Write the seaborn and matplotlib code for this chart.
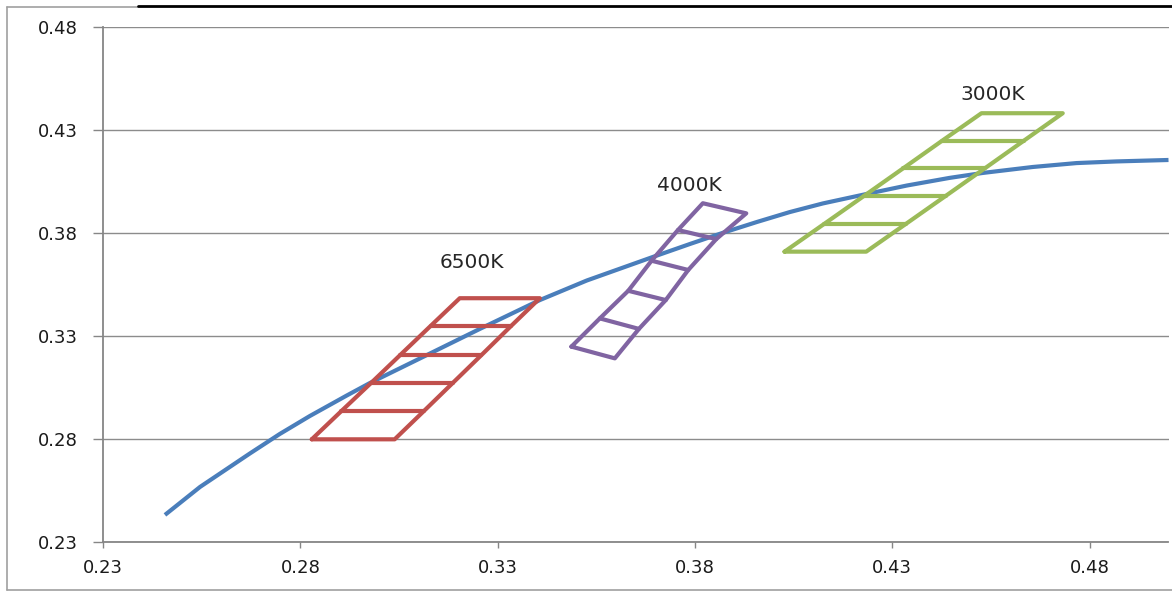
import matplotlib
matplotlib.use("Agg")
import matplotlib.pyplot as plt
import seaborn as sns
import pandas as pd
from matplotlib.lines import Line2D

# ---- data ----
locus_x = [0.2457, 0.2546, 0.2672, 0.2748, 0.2824, 0.2918, 0.2976, 0.3111,
           0.3255, 0.3407, 0.3526, 0.3693, 0.3787, 0.3870, 0.3957, 0.4040,
           0.4124, 0.4235, 0.4337, 0.4445, 0.4529, 0.4656, 0.4767, 0.4868,
           0.5000]
locus_y = [0.2430, 0.2566, 0.2728, 0.2823, 0.2910, 0.3010, 0.3070, 0.3197,
           0.3333, 0.3473, 0.3568, 0.3682, 0.3745, 0.3799, 0.3852, 0.3900,
           0.3942, 0.3988, 0.4029, 0.4066, 0.4090, 0.4119, 0.4138, 0.4146,
           0.4153]

# bin boundaries, bottom to top: left end (x, y) and right end (x, y)
k6500_left_x = [0.2829, 0.2904, 0.2979, 0.3053, 0.3130, 0.3204]
k6500_left_y = [0.2797, 0.2934, 0.3070, 0.3206, 0.3347, 0.3482]
k6500_right_x = [0.3039, 0.3113, 0.3186, 0.3259, 0.3334, 0.3407]
k6500_right_y = [0.2797, 0.2934, 0.3070, 0.3206, 0.3347, 0.3482]

k4000_left_x = [0.3487, 0.3559, 0.3631, 0.3690, 0.3757, 0.3820]
k4000_left_y = [0.3247, 0.3384, 0.3518, 0.3664, 0.3813, 0.3943]
k4000_right_x = [0.3597, 0.3658, 0.3726, 0.3783, 0.3854, 0.3930]
k4000_right_y = [0.3190, 0.3333, 0.3473, 0.3619, 0.3769, 0.3894]

k3000_left_x = [0.4027, 0.4127, 0.4228, 0.4328, 0.4426, 0.4526]
k3000_left_y = [0.3708, 0.3842, 0.3978, 0.4113, 0.4246, 0.4380]
k3000_right_x = [0.4234, 0.4334, 0.4435, 0.4535, 0.4633, 0.4732]
k3000_right_y = [0.3708, 0.3842, 0.3978, 0.4113, 0.4246, 0.4380]

bin_labels = ["6500K", "4000K", "3000K"]
label_x = [0.3235, 0.3787, 0.4554]
label_y = [0.3657, 0.4031, 0.4469]

ticks = [0.23, 0.28, 0.33, 0.38, 0.43, 0.48]
tick_labels = ["0.23", "0.28", "0.33", "0.38", "0.43", "0.48"]

# ---- style ----
sns.set_theme(style="white")
plt.rcParams["font.family"] = ["DejaVu Sans"]

fig = plt.figure(figsize=(11.72, 5.92), dpi=100)
ax = fig.add_axes([103 / 1172, 1 - 541.7 / 592, (1168.5 - 103) / 1172, (541.7 - 26.7) / 592])

blue = "#4A7EBB"
colors = ["#C0504D", "#8064A2", "#9BBB59"]

df = pd.DataFrame({"x": locus_x, "y": locus_y})
sns.lineplot(data=df, x="x", y="y", sort=False, ax=ax, color=blue, lw=3.0,
             solid_capstyle="butt", solid_joinstyle="round", zorder=3)

bins = [
    (k6500_left_x, k6500_left_y, k6500_right_x, k6500_right_y),
    (k4000_left_x, k4000_left_y, k4000_right_x, k4000_right_y),
    (k3000_left_x, k3000_left_y, k3000_right_x, k3000_right_y),
]
for (lx, ly, rx, ry), c in zip(bins, colors):
    outline_x = list(lx) + list(rx[::-1]) + [lx[0]]
    outline_y = list(ly) + list(ry[::-1]) + [ly[0]]
    ax.plot(outline_x, outline_y, color=c, lw=3.0, solid_joinstyle="round",
            solid_capstyle="round", zorder=4)
    for i in range(1, len(lx) - 1):
        ax.plot([lx[i], rx[i]], [ly[i], ry[i]], color=c, lw=3.0,
                solid_capstyle="round", zorder=4)

for t, x, y in zip(bin_labels, label_x, label_y):
    ax.text(x, y, t, ha="center", va="center", fontsize=14.5, color="#262626")

ax.set_xlim(0.23, 0.50)
ax.set_ylim(0.23, 0.48)
ax.set_xticks(ticks)
ax.set_xticklabels(tick_labels)
ax.set_yticks(ticks)
ax.set_yticklabels(tick_labels)
ax.set_xlabel("")
ax.set_ylabel("")

ax.yaxis.grid(True, color="#8C8C8C", lw=1.0)
ax.xaxis.grid(False)
ax.set_axisbelow(True)
for s in ["top", "right"]:
    ax.spines[s].set_visible(False)
for s in ["left", "bottom"]:
    ax.spines[s].set_color("#868686")
    ax.spines[s].set_linewidth(1.3)
ax.tick_params(axis="y", which="major", direction="out", length=7, width=1.0,
               color="#868686", labelsize=13, pad=11, left=True, labelcolor="#1a1a1a")
ax.tick_params(axis="x", which="major", direction="out", length=4.5, width=1.0,
               color="#868686", labelsize=13, pad=8, bottom=True, labelcolor="#1a1a1a")

# outer chart frame
fig.add_artist(Line2D([7 / 1172, 7 / 1172], [1 - 7 / 592, 1 - 590 / 592],
                      transform=fig.transFigure, color="#A0A0A0", lw=1.2))
fig.add_artist(Line2D([7 / 1172, 1.0], [1 - 590 / 592, 1 - 590 / 592],
                      transform=fig.transFigure, color="#A0A0A0", lw=1.2))
fig.add_artist(Line2D([7 / 1172, 138 / 1172], [1 - 7 / 592, 1 - 7 / 592],
                      transform=fig.transFigure, color="#A0A0A0", lw=1.2))
fig.add_artist(Line2D([138 / 1172, 1.0], [1 - 6 / 592, 1 - 6 / 592],
                      transform=fig.transFigure, color="#000000", lw=2.0))

fig.savefig("out.png", dpi=100)
